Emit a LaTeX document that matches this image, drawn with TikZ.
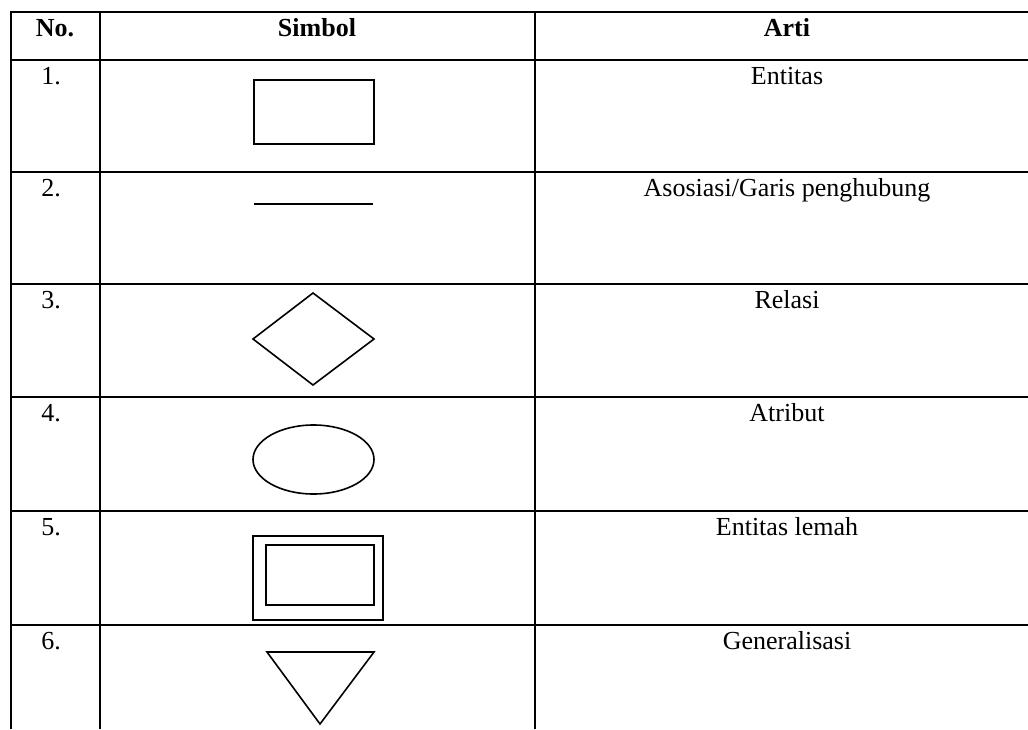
\documentclass[tikz,border=0pt]{standalone}
\usepackage{fontspec}
\setmainfont{Liberation Serif}
\tikzset{
  grid/.style={line width=2pt},
  symbol/.style={line width=1.2pt, line join=miter},
  celltext/.style={anchor=base, inner sep=0pt, font=\fontsize{19.5}{23}\selectfont},
  headtext/.style={celltext, font=\fontsize{19.5}{23}\selectfont\bfseries}
}
\begin{document}
\begin{tikzpicture}[x=0.75pt, y=-0.75pt]
  \useasboundingbox (0,0) rectangle (1028,729);

  % Table lines
  \foreach \yy in {12,60,172,284,397,511,625}
    \draw[grid] (10,\yy) -- (1028,\yy);
  \foreach \xx in {11,100,535}
    \draw[grid] (\xx,11) -- (\xx,729);

  % Header
  \node[headtext] (hno) at (55,36) {No.};
  \node[headtext] (hsym) at (317,36) {Simbol};
  \node[headtext] (harti) at (787,36) {Arti};

  % Row numbers
  \node[celltext] (n1) at (51,84) {1.};
  \node[celltext] (n2) at (51,196) {2.};
  \node[celltext] (n3) at (51,308) {3.};
  \node[celltext] (n4) at (51,421) {4.};
  \node[celltext] (n5) at (51,535) {5.};
  \node[celltext] (n6) at (51,649) {6.};

  % Meanings
  \node[celltext] (a1) at (787,84) {Entitas};
  \node[celltext] (a2) at (787,196) {Asosiasi/Garis penghubung};
  \node[celltext] (a3) at (787,308) {Relasi};
  \node[celltext] (a4) at (787,421) {Atribut};
  \node[celltext] (a5) at (787,535) {Entitas lemah};
  \node[celltext] (a6) at (787,649) {Generalisasi};

  % Entity
  \draw[symbol] (254,80) rectangle (374,144);

  % Association line
  \draw[symbol] (254,204) -- (373,204);

  % Relation
  \draw[symbol] (313,293) -- (374,339) -- (313,385) -- (253,339) -- cycle;

  % Attribute
  \draw[symbol] (313.5,459.5) ellipse (60.5 and 34.5);

  % Weak entity
  \draw[symbol] (253,536) rectangle (383,620);
  \draw[symbol] (266,545) rectangle (374,605);

  % Generalisation
  \draw[symbol] (267,652) -- (374,652) -- (320,724) -- cycle;
\end{tikzpicture}
\end{document}
